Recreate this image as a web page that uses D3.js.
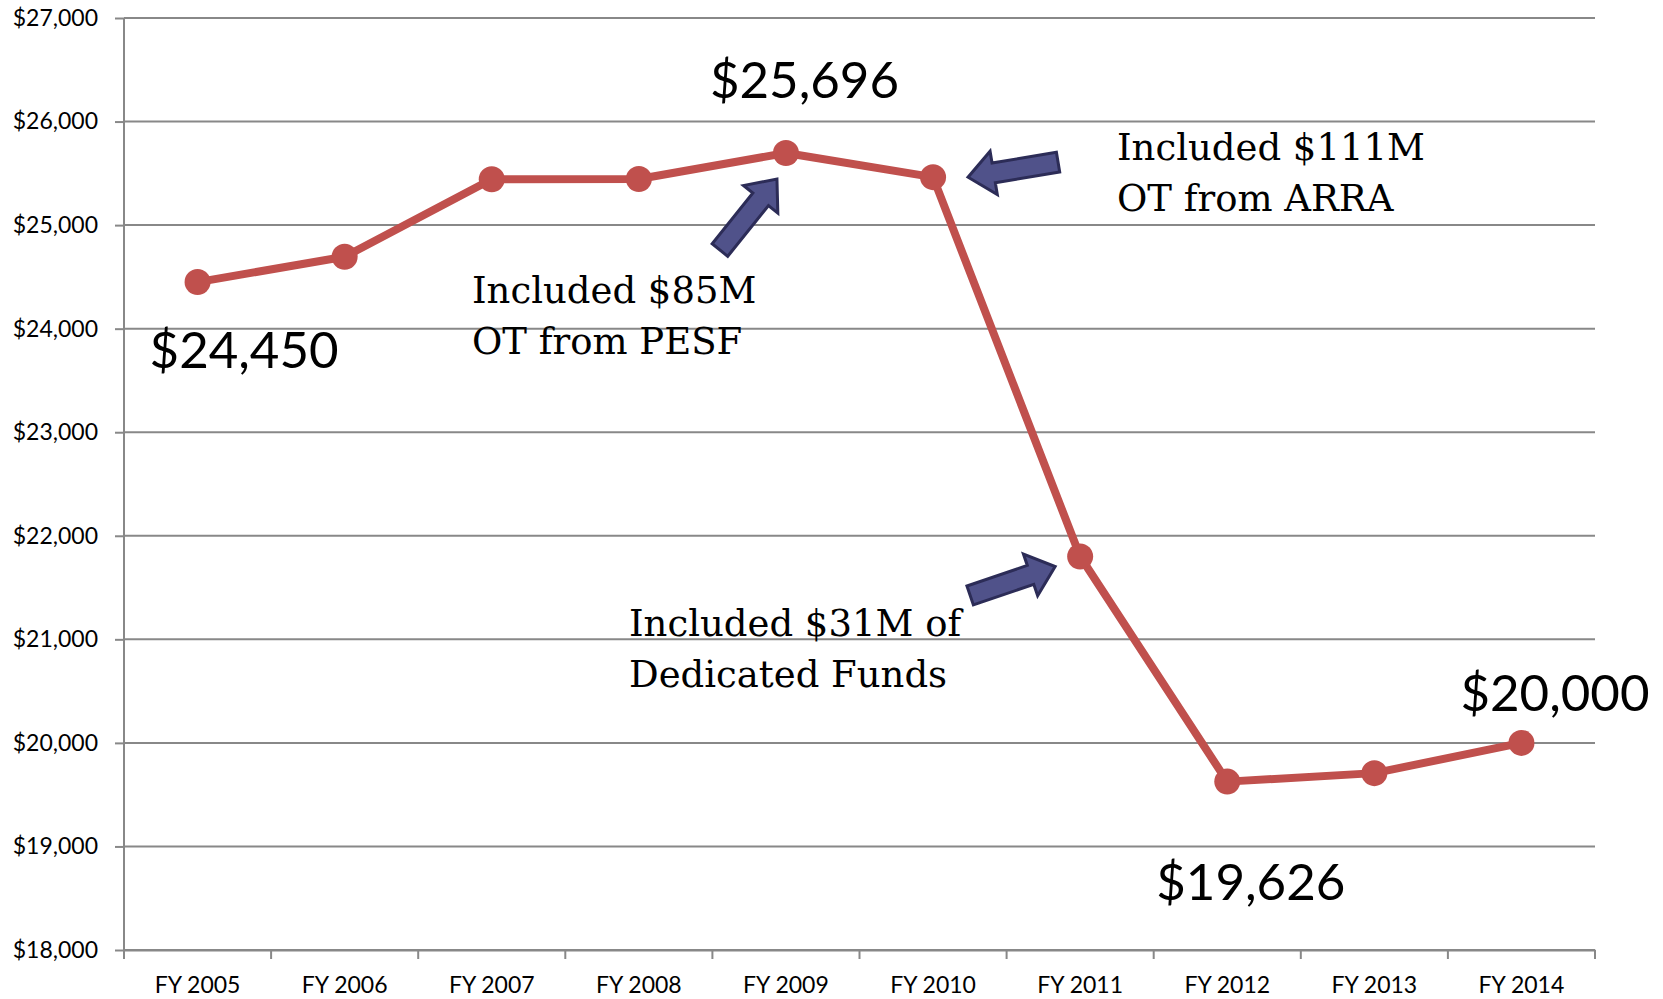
<!DOCTYPE html>
<html>
<head>
<meta charset="utf-8">
<script src="https://cdn.jsdelivr.net/npm/d3@7"></script>
<style>
  body { margin: 0; background: #fff; }
  svg { display: block; }
  .tick text { font-family: Lato, "Open Sans", sans-serif; font-size: 23px; fill: #000; }
  .big { font-family: Lato, "Open Sans", sans-serif; font-size: 51px; fill: #000; }
  .note { font-family: "DejaVu Serif", "Liberation Serif", serif; font-size: 37px; fill: #000; }
</style>
</head>
<body>
<div id="chart"></div>
<script>
// fiscal years and OT spending (thousands)
var years = ["FY 2005", "FY 2006", "FY 2007", "FY 2008", "FY 2009",
             "FY 2010", "FY 2011", "FY 2012", "FY 2013", "FY 2014"];
var spending = [24450, 24695, 25443, 25445, 25696, 25463, 21800, 19626, 19708, 20000];
var yTicks = [18000, 19000, 20000, 21000, 22000, 23000, 24000, 25000, 26000, 27000];

// value call-outs: which point, and where the text sits relative to it
var callouts = [
  {year: "FY 2005", dx: -48, dy: 86},
  {year: "FY 2009", dx: -76, dy: -55},
  {year: "FY 2012", dx: -71, dy: 118},
  {year: "FY 2014", dx: -61, dy: -32}
];

// text notes with block arrows pointing at a point
var notes = [
  {year: "FY 2009", lines: ["Included $85M", "OT from PESF"], tx: 472, ty: 303,
   tail: [-66, 97], tip: [-9, 26]},
  {year: "FY 2010", lines: ["Included $111M", "OT from ARRA"], tx: 1117, ty: 160,
   tail: [125, -15], tip: [35, 0]},
  {year: "FY 2011", lines: ["Included $31M of", "Dedicated Funds"], tx: 629, ty: 636,
   tail: [-110, 39], tip: [-25, 10]}
];

var width = 1663, height = 999;
var margin = {top: 18, right: 68, bottom: 49, left: 124};

var svg = d3.select("#chart").append("svg")
  .attr("width", width)
  .attr("height", height);

var x = d3.scaleBand()
  .domain(years)
  .range([margin.left, width - margin.right])
  .padding(0);

var y = d3.scaleLinear()
  .domain([18000, 27000])
  .range([height - margin.bottom, margin.top]);

var cx = function (d) { return x(d) + x.bandwidth() / 2; };
var valueOf = function (yr) { return spending[years.indexOf(yr)]; };

// gridlines
svg.append("g")
  .selectAll("line")
  .data(yTicks)
  .enter().append("line")
  .attr("x1", margin.left)
  .attr("x2", width - margin.right)
  .attr("y1", y)
  .attr("y2", y)
  .attr("stroke", "#888")
  .attr("stroke-width", 2);

// y axis
var yAxis = svg.append("g")
  .attr("transform", "translate(" + margin.left + ",0)")
  .call(d3.axisLeft(y)
    .tickValues(yTicks)
    .tickSize(9)
    .tickPadding(17)
    .tickFormat(function (d) { return "$" + d3.format(",")(d); }));
yAxis.select(".domain").attr("stroke", "#888").attr("stroke-width", 2)
  .attr("d", "M0," + margin.top + "V" + (height - margin.bottom + 9));
yAxis.selectAll(".tick line").attr("stroke", "#888").attr("stroke-width", 2);

// x axis: labels at band centres, tick marks at band edges
var xAxis = svg.append("g")
  .attr("transform", "translate(0," + (height - margin.bottom) + ")")
  .call(d3.axisBottom(x).tickSize(0).tickPadding(32));
xAxis.select(".domain").attr("stroke", "#888").attr("stroke-width", 2);
xAxis.selectAll(".tick text").attr("dy", "0.71em").attr("y", 27);

var edges = years.map(function (d) { return x(d); }).concat([x.range()[1]]);
xAxis.append("g")
  .selectAll("line")
  .data(edges)
  .enter().append("line")
  .attr("x1", function (d) { return d; })
  .attr("x2", function (d) { return d; })
  .attr("y1", 0)
  .attr("y2", 9)
  .attr("stroke", "#888")
  .attr("stroke-width", 2);

// the series
var line = d3.line()
  .x(function (d, i) { return cx(years[i]); })
  .y(function (d) { return y(d); });

svg.append("path")
  .datum(spending)
  .attr("fill", "none")
  .attr("stroke", "#C0504D")
  .attr("stroke-width", 8)
  .attr("stroke-linejoin", "round")
  .attr("d", line);

svg.append("g")
  .selectAll("circle")
  .data(spending)
  .enter().append("circle")
  .attr("cx", function (d, i) { return cx(years[i]); })
  .attr("cy", function (d) { return y(d); })
  .attr("r", 13)
  .attr("fill", "#C0504D");

// value call-outs
svg.append("g")
  .selectAll("text")
  .data(callouts)
  .enter().append("text")
  .attr("class", "big")
  .attr("x", function (d) { return cx(d.year) + d.dx; })
  .attr("y", function (d) { return y(valueOf(d.year)) + d.dy; })
  .text(function (d) { return "$" + d3.format(",")(valueOf(d.year)); });

// block arrow polygon from tail to tip
function blockArrow(t, h) {
  var shaft = 10, head = 22, headLen = 26;
  var dx = h[0] - t[0], dy = h[1] - t[1];
  var len = Math.sqrt(dx * dx + dy * dy);
  var ux = dx / len, uy = dy / len, nx = -uy, ny = ux;
  var bx = h[0] - ux * headLen, by = h[1] - uy * headLen;
  var pts = [
    [t[0] + nx * shaft, t[1] + ny * shaft],
    [bx + nx * shaft, by + ny * shaft],
    [bx + nx * head, by + ny * head],
    [h[0], h[1]],
    [bx - nx * head, by - ny * head],
    [bx - nx * shaft, by - ny * shaft],
    [t[0] - nx * shaft, t[1] - ny * shaft]
  ];
  return "M" + pts.map(function (p) { return p.join(","); }).join("L") + "Z";
}

var noteG = svg.append("g").selectAll("g")
  .data(notes)
  .enter().append("g");

noteG.append("path")
  .attr("d", function (d) {
    var px = cx(d.year), py = y(valueOf(d.year));
    return blockArrow([px + d.tail[0], py + d.tail[1]], [px + d.tip[0], py + d.tip[1]]);
  })
  .attr("fill", "#50528A")
  .attr("stroke", "#2C2C57")
  .attr("stroke-width", 3)
  .attr("stroke-linejoin", "miter");

noteG.append("text")
  .attr("class", "note")
  .selectAll("tspan")
  .data(function (d) { return d.lines.map(function (l, i) { return {t: l, x: d.tx, y: d.ty + i * 51}; }); })
  .enter().append("tspan")
  .attr("x", function (d) { return d.x; })
  .attr("y", function (d) { return d.y; })
  .text(function (d) { return d.t; });
</script>
</body>
</html>
